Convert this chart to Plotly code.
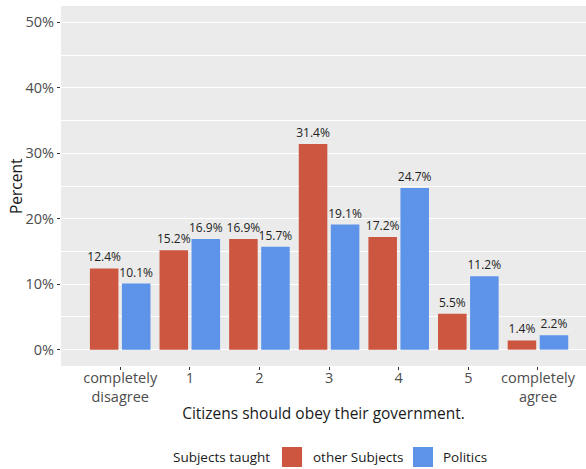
import plotly.graph_objects as go

categories = ["completely<br>disagree", "1", "2", "3", "4", "5", "completely<br>agree"]
other_subjects = [12.4, 15.2, 16.9, 31.4, 17.2, 5.5, 1.4]
politics = [10.1, 16.9, 15.7, 19.1, 24.7, 11.2, 2.2]
series_names = ["other Subjects", "Politics"]
legend_title = "Subjects taught"
x_title = "Citizens should obey their government."
y_title = "Percent"
y_ticks = [0, 10, 20, 30, 40, 50]

RED = "#CD5641"
BLUE = "#5D94EA"
FONT = "Open Sans"
TICK_COL = "#4D4D4D"

W, H = 586, 469
ML, MR, MT, MB = 61, 0, 6, 103
PW, PH = W - ML - MR, H - MT - MB

def px(x):
    return (x - ML) / PW

def py(y):
    return (H - MB - y) / PH

fig = go.Figure()
for name, vals, col, off in [(series_names[0], other_subjects, RED, -0.435),
                             (series_names[1], politics, BLUE, 0.025)]:
    fig.add_trace(go.Bar(
        x=list(range(len(categories))), y=vals, name=name,
        marker=dict(color=col, line=dict(width=0)),
        width=0.41, offset=off,
        text=[f"{v}%" for v in vals], textposition="outside",
        textfont=dict(family=FONT, size=12, color="#222222"),
        constraintext="none",
        cliponaxis=False, showlegend=False,
    ))

fig.update_layout(
    width=W, height=H,
    margin=dict(l=ML, r=MR, t=MT, b=MB, pad=0),
    paper_bgcolor="white", plot_bgcolor="#EBEBEB",
    font=dict(family=FONT, color=TICK_COL),
    barmode="overlay",
    showlegend=False,
)
fig.update_xaxes(
    range=[-0.85, 6.69], tickmode="array", tickvals=list(range(len(categories))),
    ticktext=categories, showgrid=False, zeroline=False,
    ticks="outside", ticklen=3, tickcolor="#333333", tickwidth=1,
    ticklabelstandoff=-4,
    tickfont=dict(size=14.5, color=TICK_COL, family=FONT),
    title=dict(text=x_title, font=dict(size=15.5, color="#1A1A1A", family=FONT), standoff=2),
)
fig.update_yaxes(
    range=[-2.5, 52.5], tickmode="array", tickvals=y_ticks,
    ticktext=[f"{t}%" for t in y_ticks],
    showgrid=True, gridcolor="white", gridwidth=1.2, zeroline=False,
    minor=dict(tickvals=[5, 15, 25, 35, 45], showgrid=True, gridcolor="white", gridwidth=0.5, ticks=""),
    ticks="outside", ticklen=3, tickcolor="#333333", tickwidth=1,
    tickfont=dict(size=14.5, color=TICK_COL, family=FONT),
)

# y-axis title as rotated annotation
fig.add_annotation(xref="paper", yref="paper", x=px(16), y=0.5, text=y_title, textangle=-90,
                   showarrow=False, xanchor="center", yanchor="middle",
                   font=dict(size=15.5, color="#1A1A1A", family=FONT))

# manual legend
fig.add_annotation(xref="paper", yref="paper", x=px(272), y=py(457), text=legend_title,
                   showarrow=False, xanchor="right", yanchor="middle",
                   font=dict(size=13.5, color="#1A1A1A", family=FONT))
for (x0, x1, col, tx, name) in [(282, 302, RED, 311, series_names[0]), (413, 433, BLUE, 441, series_names[1])]:
    fig.add_shape(type="rect", xref="paper", yref="paper", x0=px(x0), x1=px(x1),
                  y0=py(467), y1=py(447), fillcolor=col, line=dict(width=0))
    fig.add_annotation(xref="paper", yref="paper", x=px(tx), y=py(457), text=name,
                       showarrow=False, xanchor="left", yanchor="middle",
                       font=dict(size=13.5, color="#1A1A1A", family=FONT))

fig.write_html("out.html", config={"displayModeBar": False},
               post_script="document.body.style.margin='0';document.body.style.overflow='hidden';")
